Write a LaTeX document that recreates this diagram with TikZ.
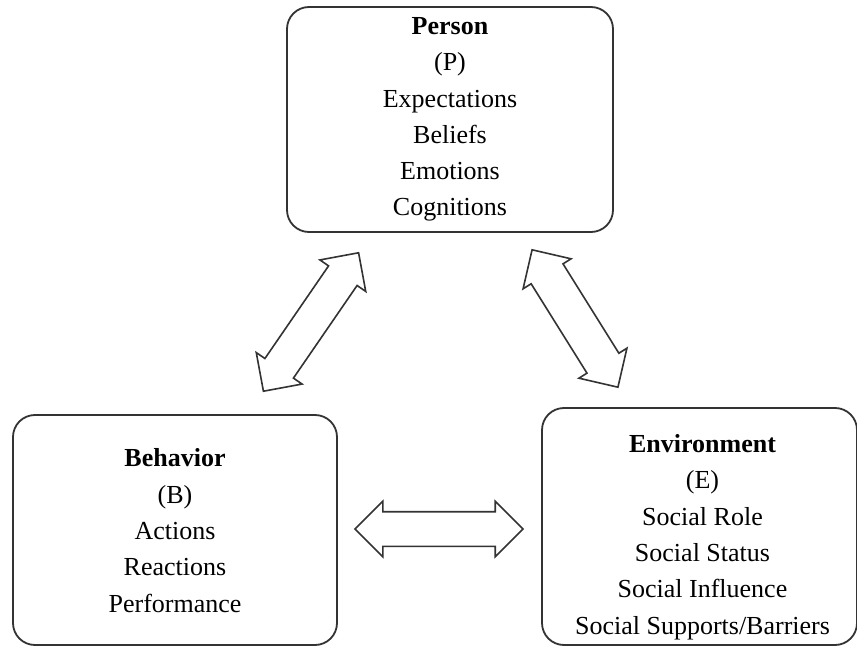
\documentclass[tikz,border=0pt]{standalone}
\usepackage{fontspec}
\setmainfont{Liberation Serif}
\usetikzlibrary{shapes.arrows}
\begin{document}
\begin{tikzpicture}[x=1pt,y=-1pt,
  boxstyle/.style={draw=black!80, line width=1.8pt, rounded corners=22pt, inner sep=0pt},
  txt/.style={align=center, inner sep=0pt, font=\fontsize{26}{36.3}\selectfont},
  blockarrow/.style={double arrow, draw=black!80, line width=1.6pt, fill=white,
     inner xsep=0pt, double arrow tip angle=90, minimum width=0pt}
]
\useasboundingbox (0,0) rectangle (857,647);
\fill[white] (0,0) rectangle (857,647);

\node[boxstyle, minimum width=326pt, minimum height=225pt] (p) at (450,119.5) {};
\node[boxstyle, minimum width=324pt, minimum height=230pt] (b) at (175,530) {};
\node[boxstyle, minimum width=315pt, minimum height=237pt] (e) at (699.5,526.5) {};

\node[txt] (ptext) at (p.center) {\textbf{Person}\\(P)\\Expectations\\Beliefs\\Emotions\\Cognitions};
\node[txt] (btext) at ([yshift=-0.7pt]b.center) {\textbf{Behavior}\\(B)\\Actions\\Reactions\\Performance};
\node[txt] (etext) at ([yshift=-10.5pt, xshift=3pt]e.center) {\textbf{Environment}\\(E)\\Social Role\\Social Status\\Social Influence\\Social Supports/Barriers};

\node[blockarrow, inner ysep=16.5pt, double arrow head extend=10.5pt, minimum height=168pt] (pb) at (311,322) [rotate=55.5] {};
\node[blockarrow, inner ysep=18pt, double arrow head extend=9.5pt, minimum height=162pt] (pe) at (575,318.5) [rotate=-58] {};
\node[blockarrow, inner ysep=16.5pt, double arrow head extend=10.5pt, minimum height=168pt] (be) at (439,529) {};
\end{tikzpicture}
\end{document}
